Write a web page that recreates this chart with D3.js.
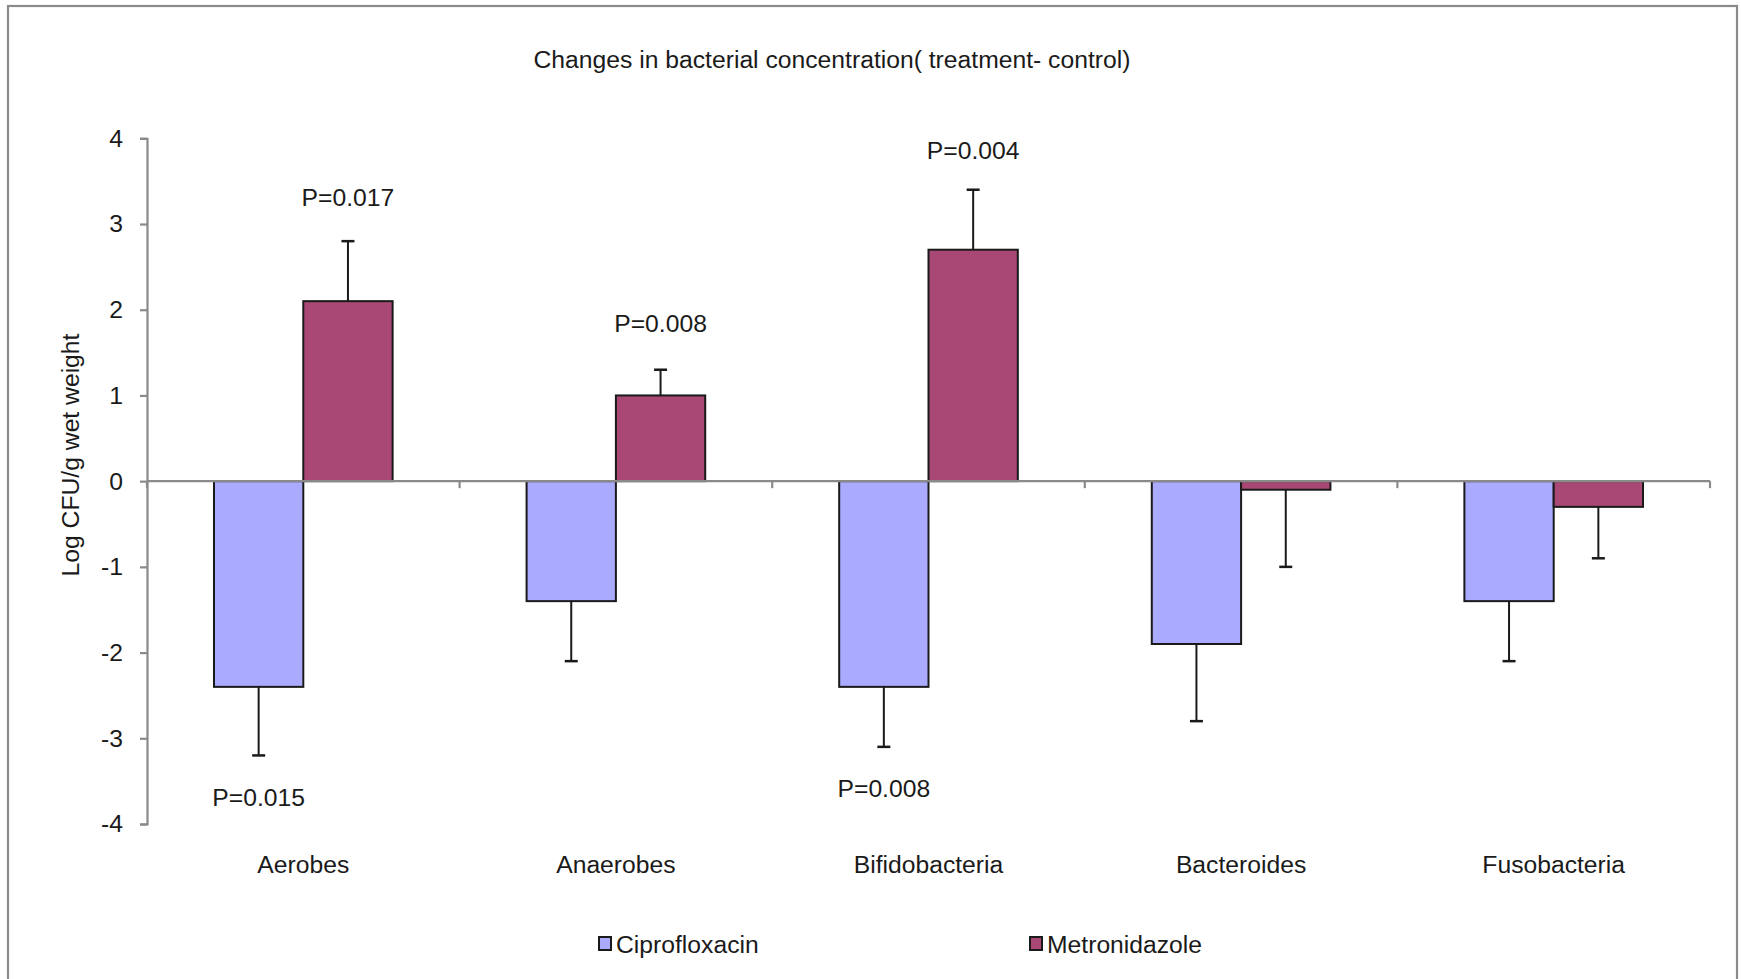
<!DOCTYPE html>
<html>
<head>
<meta charset="utf-8">
<script src="https://cdn.jsdelivr.net/npm/d3@7/dist/d3.min.js"></script>
<style>
  html, body { margin: 0; padding: 0; background: #ffffff; }
  svg { display: block; }
  text { font-family: "Liberation Sans", Arial, Helvetica, sans-serif; fill: #1a1a1a; }
</style>
</head>
<body>
<svg id="chart" width="1741" height="979"></svg>
<script>
// Mean change (treatment - control), log CFU/g wet weight
const categories = ["Aerobes", "Anaerobes", "Bifidobacteria", "Bacteroides", "Fusobacteria"];
const seriesNames = ["Ciprofloxacin", "Metronidazole"];
const ciprofloxacin = [-2.4, -1.4, -2.4, -1.9, -1.4];
const metronidazole = [2.1, 1.0, 2.7, -0.1, -0.3];
// one-sided error bars (magnitude, drawn away from zero)
const ciproError = [0.8, 0.7, 0.7, 0.9, 0.7];
const metroError = [0.7, 0.3, 0.7, 0.9, 0.6];
const yTicks = [-4, -3, -2, -1, 0, 1, 2, 3, 4];
// significance labels: category index, series index, text, vertical position (axis units)
const pLabels = [
  { cat: 0, s: 1, text: "P=0.017", y: 3.31 },
  { cat: 0, s: 0, text: "P=0.015", y: -3.69 },
  { cat: 1, s: 1, text: "P=0.008", y: 1.84 },
  { cat: 2, s: 1, text: "P=0.004", y: 3.86 },
  { cat: 2, s: 0, text: "P=0.008", y: -3.58 }
];
const colors = ["#aaaaff", "#a94874"];

const values = [ciprofloxacin, metronidazole];
const errors = [ciproError, metroError];

const svg = d3.select("#chart");
const axisColor = "#8a8a8a";
const fontSize = 24.7;
const textShift = 2.5;

// outer frame
svg.append("rect")
  .attr("x", 8).attr("y", 6)
  .attr("width", 1729).attr("height", 1100)
  .attr("fill", "none").attr("stroke", axisColor).attr("stroke-width", 2.2);

const x0 = d3.scaleBand().domain(categories.map((d, i) => i)).range([147, 1710]).padding(0);
const x1 = d3.scaleBand().domain([0, 1]).range([0, x0.bandwidth()]).paddingInner(0).paddingOuter(0.75);
const y = d3.scaleLinear().domain([-4, 4]).range([824, 138.3]);

// title
svg.append("text")
  .attr("x", 832).attr("y", 59 + textShift)
  .attr("text-anchor", "middle").attr("dominant-baseline", "middle")
  .style("font-size", fontSize + "px")
  .text("Changes in bacterial concentration( treatment- control)");

// y axis
const yAxis = svg.append("g")
  .attr("transform", `translate(${x0.range()[0]},0)`)
  .call(d3.axisLeft(y).tickValues(yTicks).tickSize(7).tickSizeOuter(7).tickPadding(17).tickFormat(d => String(d)));
yAxis.selectAll("path, line").attr("stroke", axisColor).attr("stroke-width", 2.2);
yAxis.selectAll("text").style("font-size", fontSize + "px").attr("fill", "#1a1a1a")
  .style("font-family", '"Liberation Sans", Arial, sans-serif');

// y axis title
svg.append("text")
  .attr("transform", "translate(72,455) rotate(-90)")
  .attr("text-anchor", "middle").attr("dominant-baseline", "middle")
  .style("font-size", fontSize + "px")
  .text("Log CFU/g wet weight");

// bars
const groups = svg.append("g").selectAll("g")
  .data(categories.map((c, i) => i))
  .join("g")
  .attr("transform", i => `translate(${x0(i)},0)`);

groups.selectAll("rect")
  .data(i => [0, 1].map(s => ({ s, v: values[s][i], e: errors[s][i] })))
  .join("rect")
  .attr("x", d => x1(d.s))
  .attr("width", x1.bandwidth())
  .attr("y", d => y(Math.max(0, d.v)))
  .attr("height", d => Math.abs(y(d.v) - y(0)))
  .attr("fill", d => colors[d.s])
  .attr("stroke", "#1a1a1a")
  .attr("stroke-width", 2);

// error bars
const errG = groups.selectAll("g.err")
  .data(i => [0, 1].map(s => ({ s, v: values[s][i], e: errors[s][i] })))
  .join("g").attr("class", "err");
errG.append("line")
  .attr("x1", d => x1(d.s) + x1.bandwidth() / 2)
  .attr("x2", d => x1(d.s) + x1.bandwidth() / 2)
  .attr("y1", d => y(d.v))
  .attr("y2", d => y(d.v + Math.sign(d.v) * d.e))
  .attr("stroke", "#1a1a1a").attr("stroke-width", 2);
errG.append("line")
  .attr("x1", d => x1(d.s) + x1.bandwidth() / 2 - 6.5)
  .attr("x2", d => x1(d.s) + x1.bandwidth() / 2 + 6.5)
  .attr("y1", d => y(d.v + Math.sign(d.v) * d.e))
  .attr("y2", d => y(d.v + Math.sign(d.v) * d.e))
  .attr("stroke", "#1a1a1a").attr("stroke-width", 2.5);

// x axis along zero with category boundary ticks
const xAxisG = svg.append("g");
xAxisG.append("line")
  .attr("x1", x0.range()[0]).attr("x2", x0.range()[1])
  .attr("y1", y(0)).attr("y2", y(0))
  .attr("stroke", axisColor).attr("stroke-width", 2.2);
const boundaries = categories.map((c, i) => x0(i)).concat([x0.range()[1]]);
xAxisG.selectAll("line.tick")
  .data(boundaries)
  .join("line").attr("class", "tick")
  .attr("x1", d => d).attr("x2", d => d)
  .attr("y1", y(0)).attr("y2", y(0) + 7)
  .attr("stroke", axisColor).attr("stroke-width", 2.2);

// category labels
svg.append("g").selectAll("text")
  .data(categories)
  .join("text")
  .attr("x", (d, i) => x0(i) + x0.bandwidth() / 2)
  .attr("y", 864 + textShift)
  .attr("text-anchor", "middle").attr("dominant-baseline", "middle")
  .style("font-size", fontSize + "px")
  .text(d => d);

// significance labels
svg.append("g").selectAll("text")
  .data(pLabels)
  .join("text")
  .attr("x", d => x0(d.cat) + x1(d.s) + x1.bandwidth() / 2)
  .attr("y", d => y(d.y) + textShift)
  .attr("text-anchor", "middle").attr("dominant-baseline", "middle")
  .style("font-size", fontSize + "px")
  .text(d => d.text);

// legend
const legendX = [599, 1030];
const legend = svg.append("g").selectAll("g")
  .data(seriesNames)
  .join("g")
  .attr("transform", (d, i) => `translate(${legendX[i]},943.5)`);
legend.append("rect")
  .attr("x", 0).attr("y", -6.5).attr("width", 12).attr("height", 13)
  .attr("fill", (d, i) => colors[i])
  .attr("stroke", "#1a1a1a").attr("stroke-width", 2);
legend.append("text")
  .attr("x", 17).attr("y", textShift)
  .attr("dominant-baseline", "middle")
  .style("font-size", fontSize + "px")
  .text(d => d);
</script>
</body>
</html>
